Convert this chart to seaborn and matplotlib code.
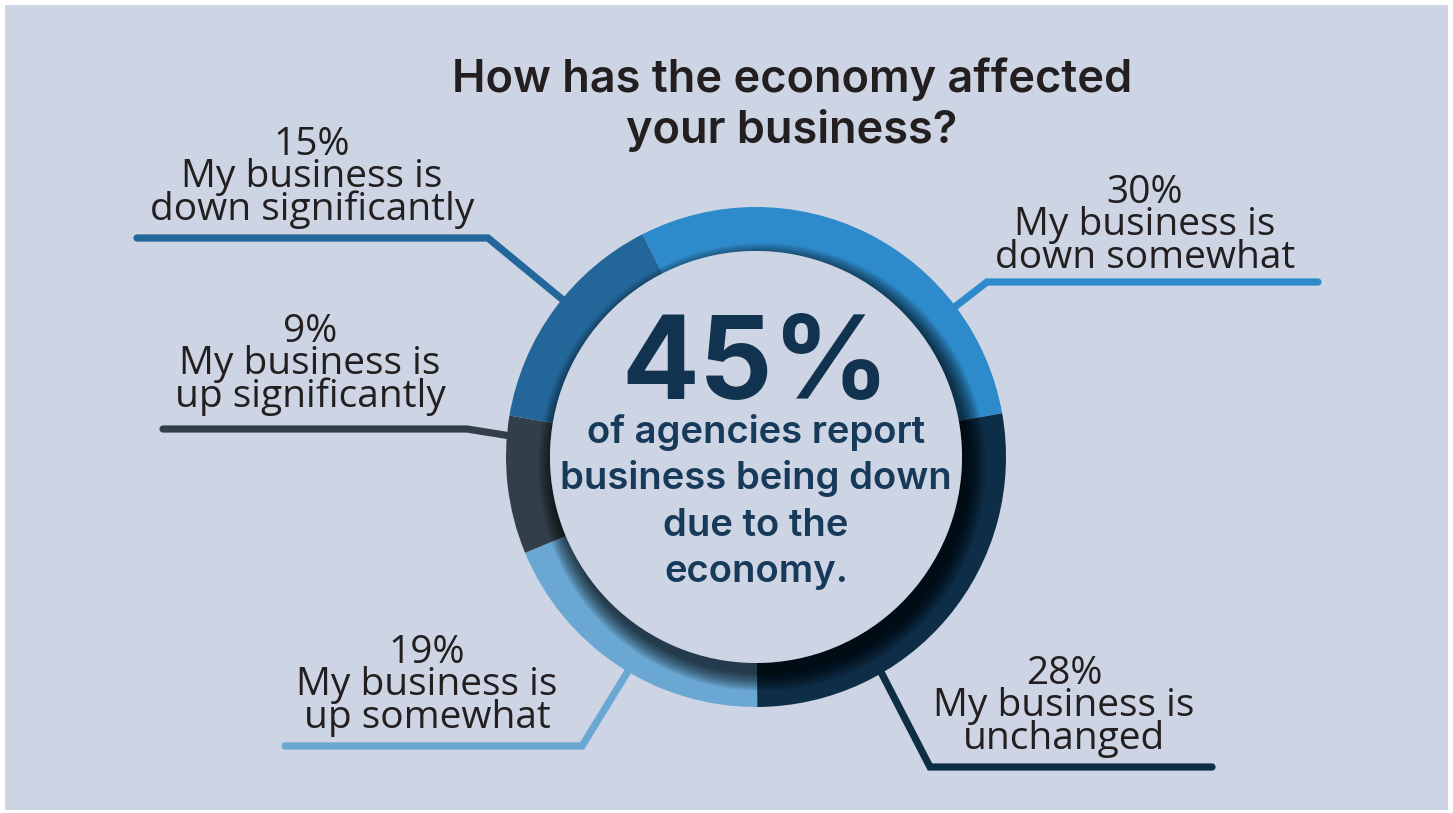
import numpy as np
import matplotlib
matplotlib.use("Agg")
import matplotlib.pyplot as plt
from matplotlib.patches import Circle, Rectangle
import seaborn as sns

# Survey answers, clockwise from the top of the ring
answers = ["down somewhat", "unchanged", "up somewhat", "up significantly", "down significantly"]
shares = [30, 28, 19, 9, 15]
colors = ["#2e8bcb", "#0e2d47", "#6aa8d3", "#323f4a", "#23679a"]

headline_value = 45
headline_lines = ["of agencies report", "business being down", "due to the", "economy."]
title_lines = ["How has the economy affected", "your business?"]

W, H = 1453, 813
BG = "#cdd4e3"
TEXT = "#231f20"

sns.set_theme(style="white")
plt.rcParams["font.family"] = ["Open Sans", "DejaVu Sans"]

fig = plt.figure(figsize=(W / 100, H / 100), dpi=100, facecolor="white")
ax = fig.add_axes([0, 0, 1, 1])


def iy(y):
    """Pixel row measured from the top -> data y."""
    return H - y


cx, cy = 756, iy(457)
R_OUT, R_IN = 250, 206

# panel background
ax.add_patch(Rectangle((5, iy(810)), W - 10, 805, facecolor=BG, edgecolor="none", zorder=0))

# donut ring
wedges, _ = ax.pie(
    shares, colors=colors, startangle=117, counterclock=False,
    radius=R_OUT, center=(cx, cy),
    wedgeprops=dict(width=R_OUT - R_IN, linewidth=0, zorder=3),
)

# soft drop shadow of the inner disk onto the ring
for k in range(1, 19):
    ax.add_patch(Circle((cx + 6, cy - 10), R_IN + k, facecolor="black",
                        edgecolor="none", alpha=0.05, zorder=4))
ax.add_patch(Circle((cx, cy), R_IN, facecolor=BG, edgecolor="none", zorder=5))

# leader lines and labels (angle clockwise from 12 o'clock)
anchor_deg = [53.0, 149.6, 210.8, 274.6, 309.1]
elbows = [(987, 282), (930, 767), (582, 746), (467, 429), (488, 238)]
line_ends = [1318, 1212, 285, 163, 137]
label_x = [1145, 1064, 427, 310, 312]
label_base = [203, 684, 663, 342, 155]
LINE_STEP = 32.3

for i, (ans, val, col) in enumerate(zip(answers, shares, colors)):
    a = np.deg2rad(anchor_deg[i])
    r0 = R_OUT - 20
    x0, y0 = cx + r0 * np.sin(a), cy + r0 * np.cos(a)
    ex, ey = elbows[i]
    ax.plot([x0, ex, line_ends[i]], [y0, iy(ey), iy(ey)], color=col, lw=5.2,
            solid_capstyle="round", solid_joinstyle="miter", zorder=2)
    texts = [f"{val}%", "My business is", ans]
    for j, t in enumerate(texts):
        ax.text(label_x[i], iy(label_base[i] + j * LINE_STEP), t, ha="center",
                va="baseline", fontsize=28, color=TEXT, fontfamily="Open Sans", zorder=6)

# title
for j, t in enumerate(title_lines):
    ax.text(792, iy(92 + j * 51), t, ha="center", va="baseline", fontsize=32.5,
            fontweight="semibold", color=TEXT, fontfamily="Inter", zorder=6)

# centre statement
ax.text(cx, iy(399), f"{headline_value}%", ha="center", va="baseline", fontsize=83,
        fontweight="bold", color="#123350", fontfamily="Inter", zorder=6)
for j, t in enumerate(headline_lines):
    ax.text(cx, iy(443 + j * 46.3), t, ha="center", va="baseline", fontsize=27.5,
            fontweight="semibold", color="#173a5a", fontfamily="Inter", zorder=6)

ax.set_aspect("auto")
ax.set_xlim(0, W)
ax.set_ylim(0, H)
ax.axis("off")

fig.savefig("out.png", dpi=100, facecolor="white")
